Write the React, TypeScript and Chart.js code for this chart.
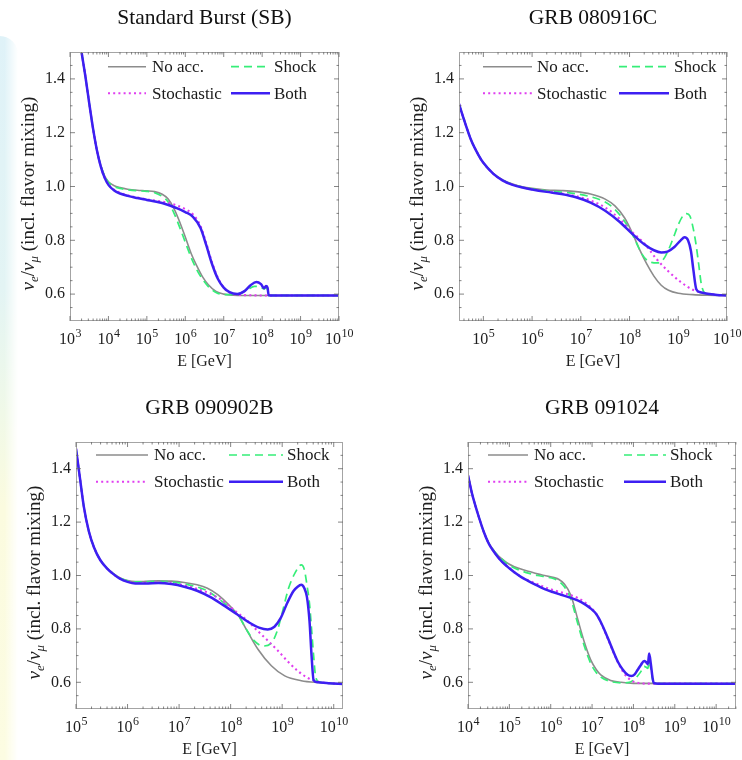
import React, { useEffect, useRef } from "react";
import { Chart, registerables } from "chart.js";

Chart.register(...registerables);

const SERIF = "'Liberation Serif', 'Times New Roman', Times, serif";

// ---------- shared ----------
const LABELS = ["No acc.", "Shock", "Stochastic", "Both"];
const COLORS = ["#8c8c8c", "#36ee78", "#e03ef0", "#3d1ff2"];
const WIDTHS = [1.6, 1.7, 2.1, 2.5];
const DASHES: number[][] = [[], [8, 5], [2, 3.2], []];
const Y_TICKS = [0.6, 0.8, 1.0, 1.2, 1.4];

// ---------- Standard Burst (SB) : log10(E/GeV) and nu_e/nu_mu ----------
const SB_NOACC_E = [3.25, 3.3, 3.4, 3.5, 3.6, 3.7, 3.8, 3.9, 4.0, 4.15, 4.3, 4.5, 4.75, 5.0, 5.2, 5.4, 5.55, 5.7, 5.85, 6.0, 6.15, 6.3, 6.45, 6.6, 6.8, 7.0, 7.25, 7.5, 10];
const SB_NOACC_V = [1.55, 1.50, 1.41, 1.31, 1.215, 1.135, 1.078, 1.04, 1.018, 1.003, 0.996, 0.990, 0.986, 0.984, 0.981, 0.971, 0.954, 0.920, 0.870, 0.812, 0.752, 0.705, 0.664, 0.635, 0.610, 0.600, 0.596, 0.595, 0.595];
const SB_SHOCK_E = [3.25, 3.3, 3.4, 3.5, 3.6, 3.7, 3.8, 3.9, 4.0, 4.15, 4.3, 4.5, 4.75, 5.0, 5.2, 5.4, 5.55, 5.7, 5.85, 6.0, 6.15, 6.3, 6.45, 6.6, 6.8, 7.0, 7.2, 7.4, 7.6, 7.8, 7.95, 8.05, 8.1, 8.14, 8.17, 8.3, 10];
const SB_SHOCK_V = [1.55, 1.50, 1.41, 1.31, 1.215, 1.135, 1.078, 1.04, 1.016, 1.0, 0.993, 0.988, 0.984, 0.982, 0.977, 0.963, 0.943, 0.903, 0.850, 0.793, 0.737, 0.690, 0.655, 0.628, 0.606, 0.598, 0.598, 0.602, 0.614, 0.629, 0.627, 0.619, 0.624, 0.617, 0.596, 0.595, 0.595];
const SB_STOCH_E = [3.25, 3.3, 3.4, 3.5, 3.6, 3.7, 3.8, 3.9, 4.0, 4.15, 4.3, 4.5, 4.75, 5.0, 5.25, 5.5, 5.75, 6.0, 6.2, 6.4, 6.55, 6.7, 6.85, 7.0, 7.15, 7.35, 7.6, 8.0, 10];
const SB_STOCH_V = [1.55, 1.50, 1.41, 1.31, 1.215, 1.135, 1.075, 1.033, 1.008, 0.988, 0.977, 0.967, 0.959, 0.952, 0.947, 0.941, 0.931, 0.916, 0.896, 0.852, 0.787, 0.716, 0.660, 0.624, 0.606, 0.598, 0.596, 0.595, 0.595];
const SB_BOTH_E = [3.25, 3.3, 3.4, 3.5, 3.6, 3.7, 3.8, 3.9, 4.0, 4.15, 4.3, 4.5, 4.75, 5.0, 5.25, 5.5, 5.75, 6.0, 6.2, 6.4, 6.55, 6.7, 6.85, 7.0, 7.15, 7.35, 7.55, 7.7, 7.85, 7.97, 8.05, 8.1, 8.14, 8.17, 8.3, 10];
const SB_BOTH_V = [1.55, 1.50, 1.41, 1.31, 1.215, 1.135, 1.075, 1.033, 1.006, 0.985, 0.974, 0.965, 0.957, 0.950, 0.943, 0.934, 0.921, 0.905, 0.887, 0.845, 0.780, 0.710, 0.656, 0.624, 0.607, 0.600, 0.612, 0.633, 0.645, 0.637, 0.622, 0.630, 0.624, 0.596, 0.595, 0.595];

// ---------- GRB 080916C ----------
const A_NOACC_E = [4.5, 4.6, 4.75, 4.9, 5.0, 5.2, 5.4, 5.6, 5.8, 6.0, 6.3, 6.6, 6.9, 7.2, 7.5, 7.7, 7.9, 8.05, 8.2, 8.35, 8.5, 8.65, 8.8, 9.0, 9.3, 9.6, 10];
const A_NOACC_V = [1.307, 1.250, 1.172, 1.117, 1.088, 1.049, 1.024, 1.009, 0.999, 0.993, 0.987, 0.985, 0.981, 0.972, 0.953, 0.928, 0.883, 0.830, 0.768, 0.713, 0.667, 0.633, 0.614, 0.603, 0.598, 0.596, 0.595];
const A_SHOCK_E = [4.5, 4.6, 4.75, 4.9, 5.0, 5.2, 5.4, 5.6, 5.8, 6.0, 6.3, 6.6, 6.9, 7.2, 7.5, 7.7, 7.9, 8.05, 8.15, 8.25, 8.35, 8.45, 8.57, 8.68, 8.8, 8.9, 9.0, 9.1, 9.17, 9.24, 9.3, 9.36, 9.42, 9.47, 9.53, 9.65, 10];
const A_SHOCK_V = [1.307, 1.250, 1.172, 1.117, 1.088, 1.049, 1.024, 1.008, 0.998, 0.991, 0.984, 0.979, 0.973, 0.962, 0.942, 0.915, 0.870, 0.825, 0.787, 0.750, 0.727, 0.718, 0.716, 0.726, 0.765, 0.810, 0.858, 0.892, 0.899, 0.890, 0.850, 0.790, 0.710, 0.640, 0.607, 0.599, 0.595];
const A_STOCH_E = [4.5, 4.6, 4.75, 4.9, 5.0, 5.2, 5.4, 5.6, 5.8, 6.0, 6.3, 6.6, 6.9, 7.2, 7.5, 7.8, 8.05, 8.3, 8.55, 8.8, 9.05, 9.3, 9.55, 9.8, 10];
const A_STOCH_V = [1.307, 1.250, 1.172, 1.117, 1.088, 1.048, 1.022, 1.007, 0.997, 0.990, 0.981, 0.974, 0.964, 0.948, 0.922, 0.879, 0.831, 0.789, 0.731, 0.684, 0.645, 0.616, 0.603, 0.597, 0.595];
const A_BOTH_E = [4.5, 4.6, 4.75, 4.9, 5.0, 5.2, 5.4, 5.6, 5.8, 6.0, 6.3, 6.6, 6.9, 7.2, 7.5, 7.8, 8.05, 8.3, 8.5, 8.65, 8.78, 8.92, 9.05, 9.13, 9.2, 9.26, 9.31, 9.37, 9.45, 9.6, 9.8, 10];
const A_BOTH_V = [1.307, 1.250, 1.172, 1.117, 1.088, 1.048, 1.022, 1.006, 0.996, 0.989, 0.980, 0.972, 0.960, 0.940, 0.910, 0.868, 0.825, 0.785, 0.763, 0.755, 0.758, 0.775, 0.800, 0.811, 0.800, 0.760, 0.690, 0.618, 0.607, 0.601, 0.597, 0.595];

// ---------- GRB 090902B ----------
const B_NOACC_E = [5.0, 5.08, 5.15, 5.25, 5.35, 5.47, 5.6, 5.72, 5.85, 6.0, 6.15, 6.35, 6.6, 6.85, 7.1, 7.35, 7.55, 7.75, 7.95, 8.15, 8.34, 8.53, 8.79, 9.05, 9.37, 9.7, 10.18];
const B_NOACC_V = [1.475, 1.36, 1.26, 1.165, 1.105, 1.058, 1.028, 1.008, 0.992, 0.981, 0.977, 0.978, 0.980, 0.979, 0.974, 0.965, 0.952, 0.928, 0.893, 0.850, 0.786, 0.724, 0.662, 0.624, 0.606, 0.599, 0.594];
const B_SHOCK_E = [5.0, 5.08, 5.15, 5.25, 5.35, 5.47, 5.6, 5.72, 5.85, 6.0, 6.15, 6.35, 6.6, 6.85, 7.1, 7.35, 7.55, 7.75, 7.95, 8.15, 8.3, 8.45, 8.63, 8.78, 8.9, 9.0, 9.12, 9.25, 9.37, 9.43, 9.48, 9.53, 9.57, 9.61, 9.65, 9.72, 10.18];
const B_SHOCK_V = [1.475, 1.36, 1.26, 1.165, 1.105, 1.058, 1.028, 1.007, 0.991, 0.980, 0.976, 0.977, 0.978, 0.976, 0.969, 0.957, 0.942, 0.916, 0.884, 0.850, 0.800, 0.757, 0.736, 0.745, 0.790, 0.860, 0.950, 1.010, 1.040, 1.022, 0.965, 0.895, 0.800, 0.700, 0.620, 0.601, 0.594];
const B_STOCH_E = [5.0, 5.08, 5.15, 5.25, 5.35, 5.47, 5.6, 5.72, 5.85, 6.0, 6.15, 6.35, 6.6, 6.85, 7.1, 7.35, 7.6, 7.85, 8.1, 8.3, 8.5, 8.7, 8.9, 9.1, 9.3, 9.5, 9.7, 10.18];
const B_STOCH_V = [1.475, 1.36, 1.26, 1.165, 1.105, 1.058, 1.027, 1.006, 0.989, 0.977, 0.972, 0.972, 0.974, 0.971, 0.963, 0.950, 0.932, 0.905, 0.865, 0.835, 0.797, 0.760, 0.722, 0.680, 0.643, 0.616, 0.602, 0.594];
const B_BOTH_E = [5.0, 5.08, 5.15, 5.25, 5.35, 5.47, 5.6, 5.72, 5.85, 6.0, 6.15, 6.35, 6.6, 6.85, 7.1, 7.35, 7.6, 7.85, 8.1, 8.35, 8.55, 8.72, 8.85, 8.97, 9.1, 9.22, 9.3, 9.37, 9.43, 9.48, 9.53, 9.57, 9.61, 9.7, 9.9, 10.18];
const B_BOTH_V = [1.475, 1.36, 1.26, 1.165, 1.105, 1.058, 1.027, 1.006, 0.988, 0.976, 0.970, 0.970, 0.972, 0.968, 0.958, 0.943, 0.920, 0.890, 0.858, 0.825, 0.805, 0.798, 0.808, 0.840, 0.898, 0.942, 0.958, 0.965, 0.952, 0.920, 0.830, 0.700, 0.608, 0.600, 0.596, 0.594];

// ---------- GRB 091024 ----------
const C_NOACC_E = [4.0, 4.1, 4.23, 4.39, 4.5, 4.64, 4.76, 4.88, 5.0, 5.12, 5.28, 5.48, 5.68, 5.88, 6.08, 6.2, 6.33, 6.49, 6.65, 6.81, 6.97, 7.1, 7.21, 7.45, 7.7, 8.0, 10.48];
const C_NOACC_V = [1.375, 1.305, 1.235, 1.16, 1.122, 1.09, 1.07, 1.055, 1.042, 1.033, 1.024, 1.015, 1.006, 0.999, 0.992, 0.985, 0.968, 0.925, 0.838, 0.752, 0.683, 0.648, 0.628, 0.607, 0.600, 0.596, 0.595];
const C_SHOCK_E = [4.0, 4.1, 4.23, 4.39, 4.5, 4.64, 4.76, 4.88, 5.0, 5.12, 5.28, 5.48, 5.68, 5.88, 6.08, 6.2, 6.33, 6.49, 6.65, 6.81, 6.97, 7.1, 7.21, 7.45, 7.7, 7.9, 8.05, 8.18, 8.26, 8.31, 8.35, 8.38, 8.42, 8.46, 8.49, 8.6, 10.48];
const C_SHOCK_V = [1.375, 1.305, 1.235, 1.16, 1.122, 1.09, 1.07, 1.052, 1.038, 1.028, 1.018, 1.008, 1.0, 0.995, 0.988, 0.978, 0.958, 0.910, 0.822, 0.737, 0.670, 0.637, 0.620, 0.603, 0.598, 0.600, 0.615, 0.640, 0.660, 0.656, 0.652, 0.680, 0.650, 0.612, 0.597, 0.595, 0.595];
const C_STOCH_E = [4.0, 4.1, 4.23, 4.39, 4.5, 4.64, 4.76, 4.88, 5.0, 5.12, 5.28, 5.44, 5.64, 5.84, 6.05, 6.25, 6.45, 6.65, 6.82, 6.97, 7.1, 7.21, 7.33, 7.45, 7.55, 7.65, 7.8, 7.95, 8.1, 8.3, 10.48];
const C_STOCH_V = [1.375, 1.305, 1.235, 1.16, 1.12, 1.086, 1.062, 1.043, 1.027, 1.012, 0.996, 0.983, 0.970, 0.957, 0.946, 0.937, 0.928, 0.916, 0.900, 0.880, 0.856, 0.824, 0.782, 0.737, 0.700, 0.667, 0.628, 0.607, 0.598, 0.595, 0.595];
const C_BOTH_E = [4.0, 4.1, 4.23, 4.39, 4.5, 4.64, 4.76, 4.88, 5.0, 5.12, 5.28, 5.44, 5.64, 5.84, 6.05, 6.25, 6.45, 6.65, 6.82, 6.97, 7.1, 7.21, 7.33, 7.45, 7.55, 7.62, 7.74, 7.86, 7.95, 8.03, 8.1, 8.18, 8.26, 8.31, 8.35, 8.38, 8.42, 8.46, 8.49, 8.6, 10.48];
const C_BOTH_V = [1.375, 1.305, 1.235, 1.16, 1.12, 1.086, 1.062, 1.043, 1.027, 1.012, 0.995, 0.981, 0.965, 0.950, 0.938, 0.928, 0.918, 0.907, 0.893, 0.876, 0.856, 0.826, 0.785, 0.740, 0.702, 0.678, 0.648, 0.628, 0.624, 0.630, 0.646, 0.665, 0.680, 0.675, 0.668, 0.708, 0.670, 0.620, 0.598, 0.595, 0.595];

// ---------- panel layout ----------
type Legend = { rows: [number, number]; c1: [number, number, number]; c2: [number, number, number] };
type PanelDef = {
  title: string;
  ox: number; oy: number;
  plot: [number, number, number, number];
  xMin: number; xMax: number;
  decades: number[];
  series: [number[], number[]][];
  legend: Legend;
};

const PANELS: PanelDef[] = [
  {
    title: "Standard Burst (SB)", ox: 0, oy: 0, plot: [70, 52, 339, 321], xMin: 3, xMax: 10,
    decades: [3, 4, 5, 6, 7, 8, 9, 10],
    series: [[SB_NOACC_E, SB_NOACC_V], [SB_SHOCK_E, SB_SHOCK_V], [SB_STOCH_E, SB_STOCH_V], [SB_BOTH_E, SB_BOTH_V]],
    legend: { rows: [14.7, 41.3], c1: [38, 76, 82], c2: [161, 200, 204] },
  },
  {
    title: "GRB 080916C", ox: 371, oy: 0, plot: [459, 52, 727, 321], xMin: 4.5, xMax: 10,
    decades: [5, 6, 7, 8, 9, 10],
    series: [[A_NOACC_E, A_NOACC_V], [A_SHOCK_E, A_SHOCK_V], [A_STOCH_E, A_STOCH_V], [A_BOTH_E, A_BOTH_V]],
    legend: { rows: [14.7, 41.3], c1: [24, 73, 78], c2: [160, 210, 215] },
  },
  {
    title: "GRB 090902B", ox: 0, oy: 380, plot: [76, 442, 343, 709], xMin: 5, xMax: 10.18,
    decades: [5, 6, 7, 8, 9, 10],
    series: [[B_NOACC_E, B_NOACC_V], [B_SHOCK_E, B_SHOCK_V], [B_STOCH_E, B_STOCH_V], [B_BOTH_E, B_BOTH_V]],
    legend: { rows: [13, 39.7], c1: [20, 72, 78], c2: [153, 207, 211] },
  },
  {
    title: "GRB 091024", ox: 371, oy: 380, plot: [468, 442, 736, 709], xMin: 4, xMax: 10.48,
    decades: [4, 5, 6, 7, 8, 9, 10],
    series: [[C_NOACC_E, C_NOACC_V], [C_SHOCK_E, C_SHOCK_V], [C_STOCH_E, C_STOCH_V], [C_BOTH_E, C_BOTH_V]],
    legend: { rows: [13, 39.7], c1: [20, 60, 66], c2: [156, 198, 202] },
  },
];

const CW = 371;
const CH = 380;

function makeDecor(p: PanelDef) {
  return {
    id: "decor",
    afterDatasetsDraw(chart: any) {
      const ctx: CanvasRenderingContext2D = chart.ctx;
      const { left, right, top, bottom } = chart.chartArea;
      const xs = chart.scales.x;
      const ys = chart.scales.y;
      ctx.save();
      // frame
      ctx.strokeStyle = "#a4a4a4";
      ctx.lineWidth = 1;
      ctx.setLineDash([]);
      ctx.strokeRect(Math.round(left) + 0.5, Math.round(top) + 0.5, Math.round(right - left) - 1, Math.round(bottom - top) - 1);
      // inward ticks
      ctx.strokeStyle = "#666";
      ctx.lineWidth = 0.8;
      const seg = (x1: number, y1: number, x2: number, y2: number) => {
        ctx.beginPath(); ctx.moveTo(x1, y1); ctx.lineTo(x2, y2); ctx.stroke();
      };
      const lo = Math.pow(10, p.xMin) * 0.999;
      const hi = Math.pow(10, p.xMax) * 1.001;
      for (let d = Math.floor(p.xMin); d <= Math.ceil(p.xMax); d++) {
        for (let k = 1; k <= 9; k++) {
          const v = k * Math.pow(10, d);
          if (v < lo || v > hi) continue;
          const x = xs.getPixelForValue(v);
          const len = k === 1 ? 5 : 2.5;
          seg(x, bottom, x, bottom - len);
          seg(x, top, x, top + len);
        }
      }
      for (let i = 1; i < 20; i++) {
        const v = 0.5 + i * 0.05;
        const major = Y_TICKS.some((t) => Math.abs(t - v) < 1e-6);
        const y = ys.getPixelForValue(v);
        const len = major ? 5 : 2.5;
        seg(left, y, left + len, y);
        seg(right, y, right - len, y);
      }
      // x tick labels 10^n
      ctx.fillStyle = "#1e1e1e";
      ctx.textBaseline = "alphabetic";
      ctx.textAlign = "left";
      for (const d of p.decades) {
        const x = xs.getPixelForValue(Math.pow(10, d));
        ctx.font = `16px ${SERIF}`;
        const w1 = ctx.measureText("10").width;
        ctx.font = `12px ${SERIF}`;
        const w2 = ctx.measureText(String(d)).width;
        const x0 = x - (w1 + w2) / 2;
        ctx.font = `16px ${SERIF}`;
        ctx.fillText("10", x0, bottom + 23);
        ctx.font = `12px ${SERIF}`;
        ctx.fillText(String(d), x0 + w1 + 0.5, bottom + 16);
      }
      // y axis title with sub-scripts
      const parts = [
        { t: "ν", f: `italic 19px ${SERIF}`, dy: 0 },
        { t: "e", f: `italic 13px ${SERIF}`, dy: 4 },
        { t: "/", f: `19px ${SERIF}`, dy: 0 },
        { t: "ν", f: `italic 19px ${SERIF}`, dy: 0 },
        { t: "μ", f: `italic 13px ${SERIF}`, dy: 4 },
        { t: " (incl. flavor mixing)", f: `19px ${SERIF}`, dy: 0 },
      ];
      let total = 0;
      const widths = parts.map((pt) => { ctx.font = pt.f; const w = ctx.measureText(pt.t).width; total += w; return w; });
      ctx.save();
      ctx.translate(left - 36, (top + bottom) / 2 + 7);
      ctx.rotate(-Math.PI / 2);
      let cx = -total / 2;
      parts.forEach((pt, i) => {
        ctx.font = pt.f;
        ctx.fillText(pt.t, cx, pt.dy);
        cx += widths[i];
      });
      ctx.restore();
      // title
      ctx.font = `21.5px ${SERIF}`;
      ctx.textAlign = "center";
      ctx.textBaseline = "middle";
      ctx.fillStyle = "#111";
      ctx.fillText(p.title, (left + right) / 2, top - 33.5);
      // legend (2 x 2, inside the frame)
      const lg = p.legend;
      const slots: [number, [number, number, number], number][] = [
        [0, lg.c1, lg.rows[0]], [1, lg.c2, lg.rows[0]], [2, lg.c1, lg.rows[1]], [3, lg.c2, lg.rows[1]],
      ];
      ctx.textAlign = "left";
      slots.forEach(([i, c, r]) => {
        const ds = chart.data.datasets[i];
        const y = top + r;
        ctx.save();
        ctx.strokeStyle = ds.borderColor;
        ctx.lineWidth = ds.borderWidth;
        ctx.setLineDash(ds.borderDash || []);
        ctx.beginPath();
        ctx.moveTo(left + c[0], y);
        ctx.lineTo(left + c[1], y);
        ctx.stroke();
        ctx.restore();
        ctx.font = `17px ${SERIF}`;
        ctx.fillStyle = "#1a1a1a";
        ctx.fillText(ds.label, left + c[2], y + 1);
      });
      ctx.restore();
    },
  };
}

function PanelChart({ p }: { p: PanelDef }) {
  const ref = useRef<HTMLCanvasElement>(null);
  useEffect(() => {
    const canvas = ref.current;
    if (!canvas) return;
    const pl = p.plot[0] - p.ox;
    const pt = p.plot[1] - p.oy;
    const pr = p.plot[2] - p.ox;
    const pb = p.plot[3] - p.oy;
    const datasets = p.series.map(([ex, vals], i) => ({
      label: LABELS[i],
      data: ex.map((e, j) => ({ x: Math.pow(10, e), y: vals[j] })),
      borderColor: COLORS[i],
      borderWidth: WIDTHS[i],
      borderDash: DASHES[i],
      pointRadius: 0,
      fill: false,
      cubicInterpolationMode: "monotone" as const,
      capBezierPoints: false,
      order: 3 - i,
    }));
    const chart = new Chart(canvas, {
      type: "line",
      data: { datasets } as any,
      options: {
        animation: false,
        responsive: false,
        devicePixelRatio: 1,
        events: [],
        layout: { padding: { left: 0, top: pt, right: CW - pr, bottom: 0 } },
        plugins: { legend: { display: false }, tooltip: { enabled: false }, title: { display: false } },
        scales: {
          x: {
            type: "logarithmic",
            min: Math.pow(10, p.xMin),
            max: Math.pow(10, p.xMax),
            grid: { display: false, drawTicks: false },
            border: { display: false },
            ticks: { display: false },
            title: {
              display: true,
              text: "E [GeV]",
              color: "#1e1e1e",
              font: { family: SERIF, size: 16 },
              padding: { top: 0, bottom: CH - pb - 41 - 9.6 },
            },
            afterFit: (s: any) => { s.height = CH - pb; s.paddingLeft = 0; s.paddingRight = 0; },
          },
          y: {
            type: "linear",
            min: 0.5,
            max: 1.5,
            grid: { display: false, drawTicks: false },
            border: { display: false },
            ticks: {
              color: "#1e1e1e",
              font: { family: SERIF, size: 16 },
              padding: 5,
              callback: (v: any) => Number(v).toFixed(1),
            },
            afterBuildTicks: (s: any) => { s.ticks = Y_TICKS.map((v) => ({ value: v })); },
            afterFit: (s: any) => { s.width = pl; s.paddingTop = 0; s.paddingBottom = 0; },
          },
        },
      } as any,
      plugins: [makeDecor(p)],
    });
    return () => chart.destroy();
  }, [p]);
  return (
    <canvas
      ref={ref}
      width={CW}
      height={CH}
      style={{ position: "absolute", left: p.ox, top: p.oy, width: CW, height: CH, display: "block" }}
    />
  );
}

export default function App() {
  return (
    <div style={{ position: "absolute", left: 0, top: 0, width: 742, height: 760, background: "#fff", overflow: "hidden" }}>
      <div
        style={{
          position: "absolute", left: 0, top: 36, width: 18, height: 724,
          borderTopRightRadius: 18,
          background: "linear-gradient(to bottom, #dff2f8 0%, #e3f4f4 35%, #f0f9e8 52%, #fbfbdf 65%, #fcfce2 100%)",
          WebkitMaskImage: "linear-gradient(to right, #000 25%, transparent 100%)",
          maskImage: "linear-gradient(to right, #000 25%, transparent 100%)",
        } as any}
      />
      {PANELS.map((p) => (
        <PanelChart key={p.title} p={p} />
      ))}
    </div>
  );
}
